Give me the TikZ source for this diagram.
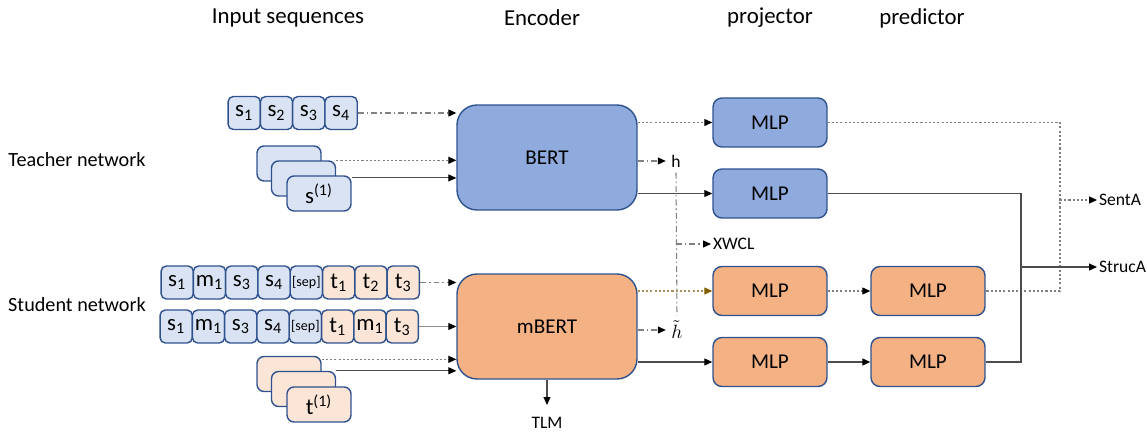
\documentclass[tikz,border=0pt]{standalone}
\usepackage{fontspec}
\setmainfont{Carlito}
\usetikzlibrary{arrows.meta,calc,positioning}

\definecolor{bordblue}{HTML}{2F528F}
\definecolor{tokblue}{HTML}{DAE3F3}
\definecolor{tokorange}{HTML}{FBE5D6}
\definecolor{encblue}{HTML}{8FAADC}
\definecolor{encorange}{HTML}{F4B183}
\definecolor{linegray}{HTML}{808080}
\definecolor{linebrown}{HTML}{A6925A}
\definecolor{tipbrown}{HTML}{7F6000}

\tikzset{
  tokb/.style={draw=bordblue, fill=tokblue, line width=0.8pt, rounded corners=3pt,
    minimum width=0.646cm, minimum height=0.66cm, inner sep=0pt, font=\fontsize{13}{13}\selectfont},
  toko/.style={tokb, fill=tokorange},
  stackb/.style={draw=bordblue, fill=tokblue, line width=0.8pt, rounded corners=4pt,
    minimum width=1.28cm, minimum height=0.7cm, inner sep=0pt, font=\fontsize{13}{13}\selectfont},
  stacko/.style={stackb, fill=tokorange},
  encb/.style={draw=bordblue, fill=encblue, line width=0.8pt, rounded corners=0.4cm,
    minimum width=3.6cm, minimum height=2.1cm, font=\fontsize{12}{12}\selectfont},
  enco/.style={encb, fill=encorange},
  mlpb/.style={draw=bordblue, fill=encblue, line width=0.8pt, rounded corners=0.18cm,
    minimum width=2.28cm, minimum height=0.98cm, font=\fontsize{12}{12}\selectfont},
  mlpo/.style={mlpb, fill=encorange},
  lbl/.style={font=\fontsize{10}{10}\selectfont, inner sep=1pt},
  head/.style={font=\fontsize{13}{13}\selectfont},
  side/.style={font=\fontsize{11.5}{12}\selectfont},
  arr/.style={-{Triangle[length=1.6mm,width=1.4mm,color=black]}},
  arrbrown/.style={-{Triangle[length=1.6mm,width=1.4mm,color=tipbrown]}},
  dashdotln/.style={draw=linegray, line width=0.6pt, dash pattern=on 3.4pt off 1.7pt on 0.8pt off 1.7pt},
  dotln/.style={draw=linegray, line width=0.6pt, dash pattern=on 1.2pt off 1.2pt},
  brownln/.style={draw=linebrown, line width=0.6pt, dash pattern=on 1.2pt off 1.2pt},
  solidln/.style={draw=black!70, line width=0.6pt},
  thinln/.style={draw=black!45, line width=0.5pt},
}

\begin{document}
\begin{tikzpicture}[x=0.02cm, y=-0.02cm]
\useasboundingbox (0,0) rectangle (1147,432);

% headers
\node[head] (hin) at (288,18) {Input sequences};
\node[head] (henc) at (542,18) {Encoder};
\node[head] (hproj) at (770,18) {projector};
\node[head] (hpred) at (922,18) {predictor};
\node[side] (teach) at (77,160) {Teacher network};
\node[side] (stud) at (77,305) {Student network};

% teacher inputs
\foreach \lab [count=\i] in {1,2,3,4}
  \node[tokb] (ta\i) at ({244.2+32.3*(\i-1)},113) {s\textsubscript{\lab}};
\node[stackb] (sa) at (289,163.5) {};
\node[stackb] (sb) at (303.5,178.5) {};
\node[stackb] (sc) at (319,193.5) {s\textsuperscript{(1)}};

% student inputs
\foreach \lab/\sty [count=\i] in {s\textsubscript{1}/tokb, m\textsubscript{1}/tokb, s\textsubscript{3}/tokb,
    s\textsubscript{4}/tokb, {\fontsize{8}{8}\selectfont[sep]}/tokb, t\textsubscript{1}/toko,
    t\textsubscript{2}/toko, t\textsubscript{3}/toko}
  \node[\sty] (ra\i) at ({177.2+32.3*(\i-1)},282.5) {\lab};
\foreach \lab/\sty [count=\i] in {s\textsubscript{1}/tokb, m\textsubscript{1}/tokb, s\textsubscript{3}/tokb,
    s\textsubscript{4}/tokb, {\fontsize{8}{8}\selectfont[sep]}/tokb, t\textsubscript{1}/toko,
    m\textsubscript{1}/toko, t\textsubscript{3}/toko}
  \node[\sty] (rb\i) at ({176.2+32.3*(\i-1)},326.5) {\lab};
\node[stacko] (ua) at (289,374) {};
\node[stacko] (ub) at (303.5,389) {};
\node[stacko] (uc) at (319,404.5) {t\textsuperscript{(1)}};

% encoders
\node[encb] (bert) at (547,157.5) {BERT};
\node[enco] (mbert) at (547,326.5) {mBERT};

% projectors and predictors
\node[mlpb] (pa) at (770,122.5) {MLP};
\node[mlpb] (pb) at (770,193.5) {MLP};
\node[mlpo] (pc) at (770,291) {MLP};
\node[mlpo] (pd) at (770,362) {MLP};
\node[mlpo] (qc) at (928,291) {MLP};
\node[mlpo] (qd) at (928,362) {MLP};

% outputs
\node[lbl, inner sep=3pt] (h) at (676,161) {h};
\node[lbl, inner sep=3pt, font=\fontsize{11}{11}\selectfont] (hh) at (677,330) {$\tilde h$};
\node[lbl, anchor=west] (xw) at (711,244) {XWCL};
\node[lbl, anchor=north, inner sep=0pt] (tlm) at (547,417) {TLM};
\coordinate (tlmend) at (547,405);
\node[lbl, anchor=west] (senta) at (1097,200) {SentA};
\node[lbl, anchor=west] (struca) at (1097,267) {StrucA};
\coordinate (dj) at (1060,200);
\coordinate (sj) at (1021,267);

% inputs to encoders
\draw[dashdotln, arr] (ta4.east) -- (ta4.east -| bert.west);
\draw[dotln, arr] (sb.north east) -- (sb.north east -| bert.west);
\draw[solidln, arr] ([yshift=-1.5pt]sc.north east) -- ([yshift=-1.5pt]sc.north east -| bert.west);
\draw[dashdotln, arr] (ra8.east) -- (ra8.east -| mbert.west);
\draw[thinln, arr] (rb8.east) -- (rb8.east -| mbert.west);
\draw[dotln, arr] ([yshift=-2pt]ua.north east) -- ([yshift=-2pt]ua.north east -| mbert.west);
\draw[solidln, arr] (ub.north east) -- (ub.north east -| mbert.west);

% encoders to heads
\draw[dotln, arr] (bert.east |- pa.west) -- (pa.west);
\draw[solidln, arr] (bert.east |- pb.west) -- (pb.west);
\draw[dashdotln, arr] (bert.east |- h) -- (h.west);
\draw[brownln, arrbrown] (mbert.east |- pc.west) -- (pc.west);
\draw[solidln, arr] (mbert.east |- pd.west) -- (pd.west);
\draw[dashdotln, arr] (mbert.east |- hh) -- (hh.west);
\draw[solidln, arr] (mbert.south) -- (tlmend);

% contrastive link
\draw[dashdotln] (h.south) -- (hh.north);
\draw[dashdotln, arr] (h.south |- xw.west) -- (xw.west);

% projector to predictor
\draw[dotln, arr] (pc.east) -- (qc.west);
\draw[solidln, arr] (pd.east) -- (qd.west);

% alignment losses
\draw[dotln] (pa.east) -| (dj) |- (qc.east);
\draw[dotln, arr] (dj) -- (senta.west);
\draw[solidln] (pb.east) -| (sj) |- (qd.east);
\draw[solidln, arr] (sj) -- (struca.west);
\end{tikzpicture}
\end{document}
